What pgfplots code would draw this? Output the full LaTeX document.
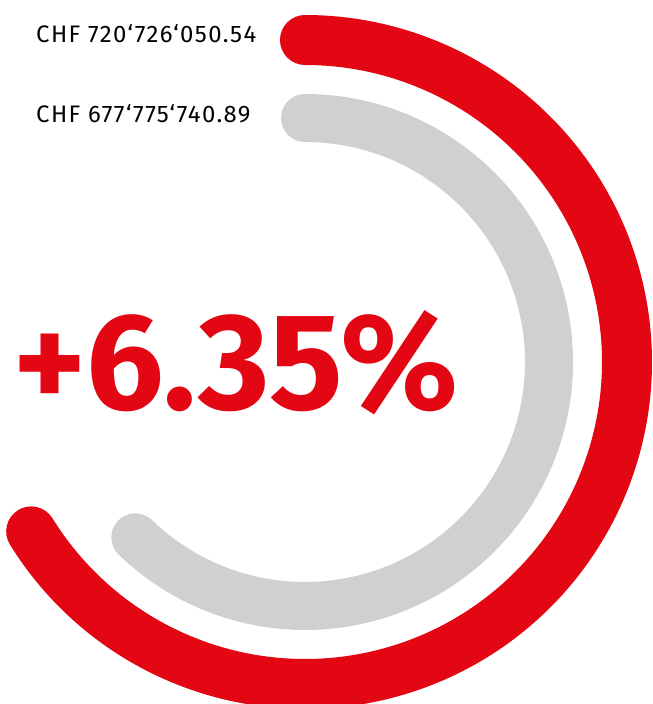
\documentclass[border=0pt]{standalone}
\usepackage{fontspec}
\setmainfont{Fira Sans}[LetterSpace=6]
\newfontfamily\bigfont{Fira Sans}[UprightFont=* Bold]
\usepackage{pgfplots}
\pgfplotsset{compat=1.18}
\definecolor{chfred}{HTML}{E30613}
\definecolor{chfgrey}{HTML}{D0D0D0}

% values in CHF millions, full circle = 1089
\def\fullscale{1089}
\pgfmathsetmacro{\redend}{90-720.72605054/\fullscale*360}
\pgfmathsetmacro{\greyend}{90-677.77574089/\fullscale*360}

\begin{document}
\begin{tikzpicture}
\begin{axis}[
  width=653bp, height=704bp, scale only axis,
  xmin=-305, xmax=348, ymin=-342, ymax=362,
  hide axis, clip=true,
]
\path (rel axis cs:0,0) rectangle (rel axis cs:1,1);
% outer ring: current value
\addplot[data cs=polar, domain=\redend:90, samples=240, line width=50bp,
  line cap=round, color=chfred] {322};
% inner ring: previous value
\addplot[data cs=polar, domain=\greyend:90, samples=240, line width=48bp,
  line cap=round, color=chfgrey] {244};
\node[anchor=base west, inner sep=0pt, font=\fontsize{24}{26}\selectfont] at (axis cs:-269,319) {CHF 720‘726‘050.54};
\node[anchor=base west, inner sep=0pt, font=\fontsize{24}{26}\selectfont] at (axis cs:-269,239) {CHF 677‘775‘740.89};
\node[anchor=base, text=chfred, font=\bigfont\fontsize{138}{140}\selectfont] at (axis cs:-69,-48) {+6.35\%};
\end{axis}
\end{tikzpicture}
\end{document}
